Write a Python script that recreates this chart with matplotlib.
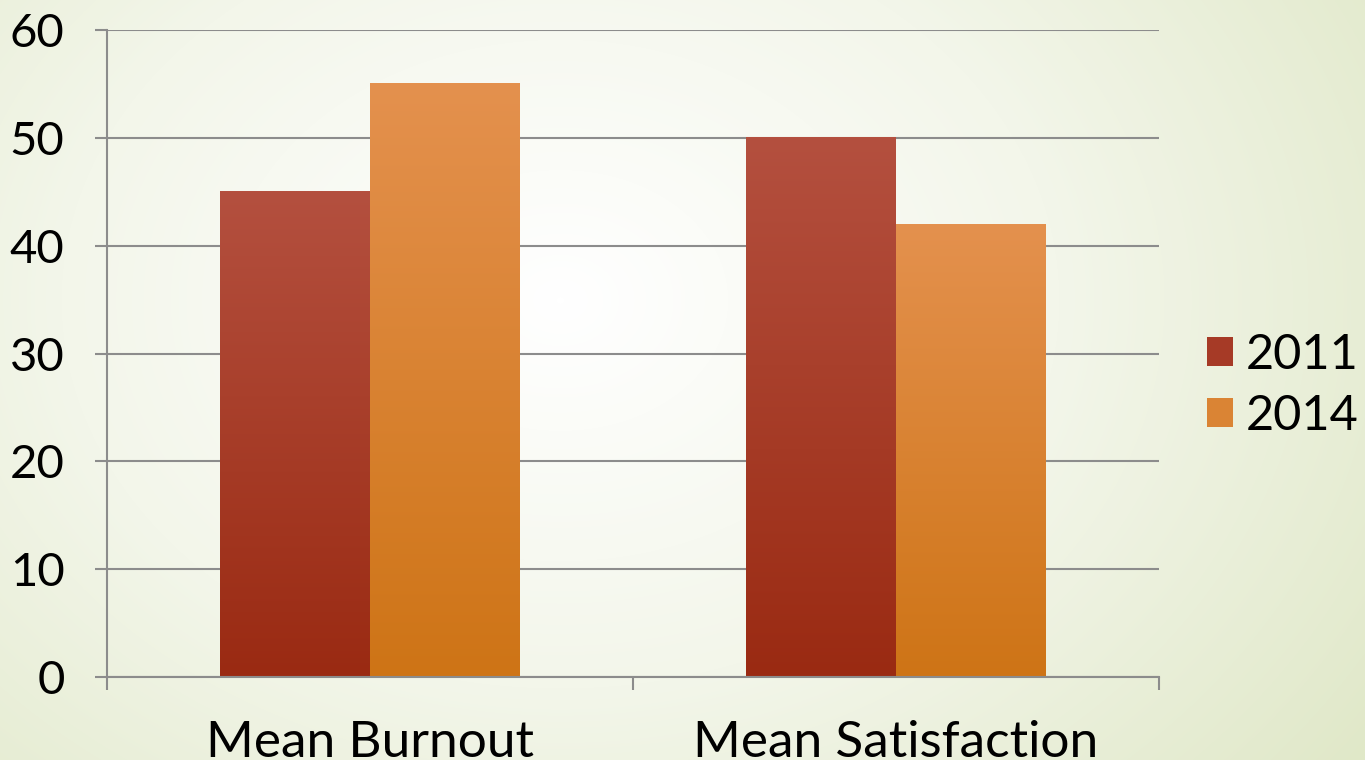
import numpy as np
import matplotlib
matplotlib.use("Agg")
import matplotlib.pyplot as plt
from matplotlib.patches import Patch
from matplotlib.colors import LinearSegmentedColormap

categories = ["Mean Burnout", "Mean Satisfaction"]
years = ["2011", "2014"]
values_2011 = [45, 50]
values_2014 = [55, 42]
yticks = [0, 10, 20, 30, 40, 50, 60]

# top / bottom colours of each series' gradient
grad_colors = {
    "2011": ("#B4503F", "#9A2A12"),
    "2014": ("#E4914E", "#CE7416"),
}

plt.rcParams['font.family'] = ['Lato', 'DejaVu Sans']

fig = plt.figure(figsize=(13.65, 7.6), dpi=100)

# radial background
bg = fig.add_axes([0, 0, 1, 1])
yy, xx = np.mgrid[0:760, 0:1365]
r = np.sqrt(((xx - 560) / 900) ** 2 + ((yy - 300) / 700) ** 2)
r = np.clip(r / r.max(), 0, 1)
bg_cmap = LinearSegmentedColormap.from_list("bg", ["#FFFFFF", "#F3F6EA", "#E0E8C8"])
bg.imshow(r, cmap=bg_cmap, aspect="auto", extent=[0, 1, 0, 1])
bg.set_axis_off()

ax = fig.add_axes([0.0784, 0.1092, 0.7707, 0.8513])
ax.patch.set_alpha(0)

x = np.arange(len(categories))
width = 0.285
offsets = [-width / 2, width / 2]

for year, vals, off in zip(years, [values_2011, values_2014], offsets):
    top, bot = grad_colors[year]
    cmap = LinearSegmentedColormap.from_list(year, [bot, top])
    bars = ax.bar(x + off, vals, width, color="none", edgecolor="none")
    for b in bars:
        x0 = b.get_x()
        h = b.get_height()
        grad = np.linspace(0, 1, 256).reshape(-1, 1)
        ax.imshow(grad, cmap=cmap, origin="lower", aspect="auto",
                  extent=[x0, x0 + b.get_width(), 0, h], zorder=2)

ax.set_xlim(-0.5, 1.5)
ax.set_ylim(0, 60)
ax.set_yticks(yticks)
ax.set_yticklabels([str(v) for v in yticks], fontsize=34)
ax.yaxis.grid(True, color="#8C8C8C", linewidth=1.5)
ax.set_axisbelow(True)

ax.set_xticks([-0.5, 0.5, 1.5])
ax.set_xticklabels([])
ax.set_xticks(x, minor=True)
ax.set_xticklabels(categories, minor=True, fontsize=37)
ax.tick_params(axis="x", which="minor", length=0, pad=31)
ax.tick_params(axis="x", which="major", length=9.4, width=1.5, color="#8C8C8C")
ax.tick_params(axis="y", length=8.6, width=1.5, color="#8C8C8C", pad=22)

for s in ["top", "right"]:
    ax.spines[s].set_visible(False)
ax.spines["left"].set_color("#8C8C8C")
ax.spines["left"].set_linewidth(1.5)
ax.spines["bottom"].set_color("#8C8C8C")
ax.spines["bottom"].set_linewidth(1.5)

handles = [Patch(facecolor="#A63A26", edgecolor="none"),
           Patch(facecolor="#DA8434", edgecolor="none")]
fig.legend(handles, years, loc="center left", bbox_to_anchor=(0.8842, 0.4928),
           frameon=False, fontsize=35, handlelength=0.53, handleheight=0.53,
           handletextpad=0.27, labelspacing=0.35, borderpad=0, borderaxespad=0)

fig.savefig("out.png", dpi=100)
